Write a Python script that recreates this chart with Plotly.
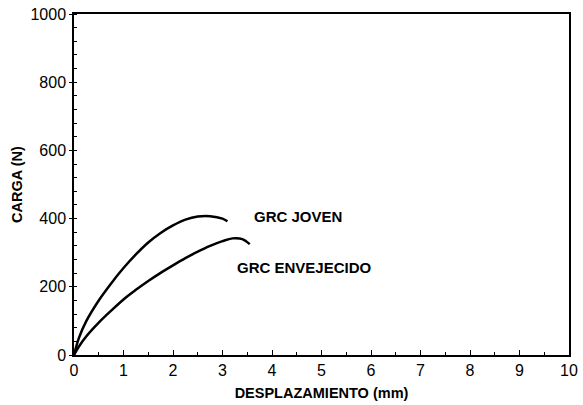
import plotly.graph_objects as go

joven_x = [0, 0.1, 0.25, 0.5, 0.75, 1.0, 1.25, 1.5, 1.75, 2.0, 2.25, 2.5, 2.75, 3.0, 3.1]
joven_y = [0, 50, 100, 160, 210, 255, 295, 330, 358, 380, 397, 406, 407, 400, 392]

env_x = [0, 0.1, 0.25, 0.5, 0.75, 1.0, 1.25, 1.5, 1.75, 2.0, 2.25, 2.5, 2.75, 3.0, 3.2, 3.4, 3.55]
env_y = [0, 25, 55, 95, 130, 163, 191, 217, 241, 263, 284, 303, 320, 334, 342, 340, 325]

labels = ["GRC JOVEN", "GRC ENVEJECIDO"]
label_x = [3.6, 3.25]
label_y = [405, 258]

FONT = "Liberation Sans, Arial"

fig = go.Figure()
fig.add_trace(go.Scatter(x=joven_x, y=joven_y, mode="lines", line=dict(color="black", width=2.5, shape="spline"), showlegend=False))
fig.add_trace(go.Scatter(x=env_x, y=env_y, mode="lines", line=dict(color="black", width=2.5, shape="spline"), showlegend=False))

for t, x, y in zip(labels, label_x, label_y):
    fig.add_annotation(x=x, y=y, text="<b>" + t + "</b>", showarrow=False, xanchor="left", yanchor="middle",
                       font=dict(family=FONT, size=15, color="black"))

axis_common = dict(showgrid=False, zeroline=False, showline=True, linecolor="black", linewidth=1.5, mirror=True,
                   tickcolor="black", tickwidth=1, automargin=False, ticklabeloverflow="allow",
                   tickfont=dict(family=FONT, size=16, color="black"))

fig.update_xaxes(range=[0, 10], dtick=1, tick0=0, ticks="inside", ticklen=5,
                 minor=dict(dtick=0.5, ticks="inside", ticklen=3, tickcolor="black"),
                 title=dict(text="<b>DESPLAZAMIENTO (mm)</b>", font=dict(family=FONT, size=14.5, color="black"), standoff=10),
                 **axis_common)
fig.update_yaxes(range=[0, 1000], dtick=200, tick0=0, ticks="outside", ticklen=3,
                 minor=dict(dtick=40, ticks="inside", ticklen=3, tickcolor="black"),
                 title=dict(text="<b>CARGA (N)</b>", font=dict(family=FONT, size=14.5, color="black"), standoff=4),
                 **axis_common)

fig.update_layout(width=583, height=405, margin=dict(l=74, r=14, t=14, b=50),
                  paper_bgcolor="white", plot_bgcolor="white")

fig.write_html("out.html", config={"displayModeBar": False},
               post_script="document.body.style.margin='0';")
